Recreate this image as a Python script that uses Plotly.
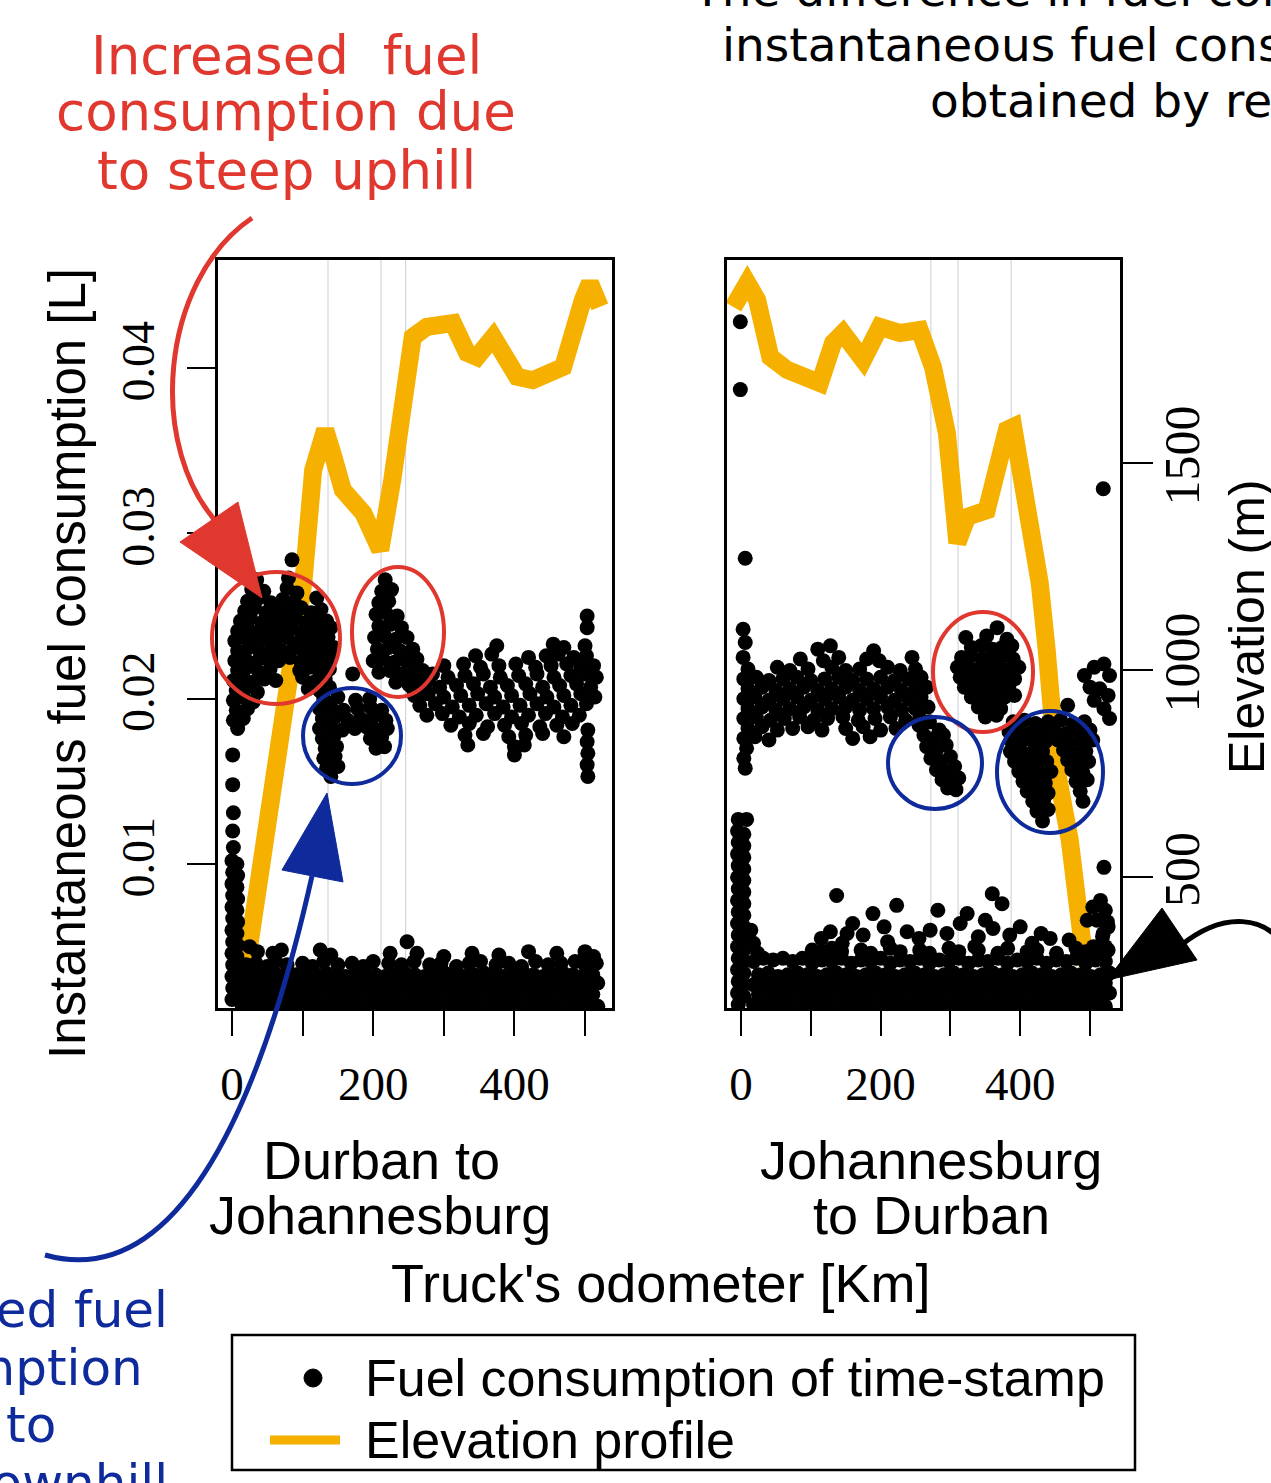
import plotly.graph_objects as go

W, H = 1271, 1483

# ---------------- DATA ----------------
# Elevation profiles (odometer km, elevation m)
dj_elev_km = [13, 78, 101, 115, 132, 143, 157, 186, 210, 227, 241, 256, 276, 313, 333, 347, 370, 404, 426, 469, 497, 507, 521]
dj_elev_m = [203, 952, 1210, 1483, 1580, 1519, 1435, 1379, 1290, 1459, 1628, 1804, 1829, 1838, 1766, 1756, 1804, 1708, 1700, 1732, 1894, 1935, 1877]
jd_elev_km = [-11, 9, 23, 42, 66, 113, 132, 146, 175, 199, 228, 256, 275, 295, 310, 324, 352, 381, 390, 410, 428, 438, 453, 471, 486, 493]
jd_elev_m = [1877, 1935, 1894, 1756, 1725, 1693, 1790, 1814, 1749, 1829, 1814, 1821, 1732, 1572, 1307, 1370, 1386, 1580, 1587, 1403, 1210, 1048, 751, 589, 348, 287]

# Durban -> Johannesburg fuel points (km, litres)
dj_uphill_a = [(35,.0272),(80,.0273),(85,.0284),
 (28,.0266),(45,.0265),(78,.0267),(92,.0264),
 (22,.0259),(38,.0261),(55,.0258),(72,.0260),(88,.0259),(120,.0261),
 (18,.0253),(32,.0255),(48,.0252),(64,.0254),(82,.0253),(98,.0255),(112,.0252),(126,.0254),
 (12,.0247),(26,.0249),(42,.0246),(58,.0248),(74,.0247),(90,.0249),(104,.0246),(118,.0248),(134,.0247),
 (8,.0241),(22,.0243),(36,.0240),(52,.0242),(68,.0241),(84,.0243),(98,.0240),(112,.0242),(128,.0241),(140,.0243),
 (4,.0235),(18,.0237),(32,.0234),(46,.0236),(62,.0235),(78,.0237),(94,.0234),(108,.0236),(122,.0235),(136,.0237),
 (8,.0229),(24,.0231),(40,.0228),(56,.0230),(70,.0229),(88,.0231),(102,.0228),(116,.0230),(130,.0229),(144,.0231),
 (4,.0223),(18,.0225),(34,.0222),(50,.0224),(66,.0223),(82,.0225),(98,.0222),(112,.0224),(126,.0223),(140,.0225),
 (8,.0217),(22,.0219),(38,.0216),(54,.0218),(96,.0217),(110,.0219),(124,.0216),(138,.0218),
 (2,.0211),(16,.0213),(30,.0210),(46,.0212),(62,.0211),(100,.0213),(116,.0210),(132,.0212),
 (6,.0205),(20,.0207),(36,.0204),(108,.0206),(124,.0205),(138,.0207),
 (2,.0199),(16,.0201),(30,.0198),(6,.0193),(22,.0194),(2,.0187),(16,.0188),(8,.0182)]
dj_downhill = [(171,.0215),
 (130,.0200),(150,.0201),(175,.0199),(195,.0200),
 (124,.0194),(140,.0195),(158,.0193),(178,.0194),(196,.0195),(212,.0193),
 (128,.0188),(146,.0189),(164,.0187),(182,.0188),(200,.0189),(218,.0187),
 (124,.0182),(140,.0183),(156,.0181),(174,.0182),(190,.0183),(206,.0181),(220,.0182),
 (128,.0176),(144,.0177),(196,.0176),(212,.0177),
 (132,.0170),(148,.0171),(204,.0170),(216,.0171),
 (130,.0164),(146,.0165),(134,.0158),(150,.0159),(140,.0153)]
dj_uphill_b = [(217,.0272),(212,.0265),(226,.0266),(208,.0258),(222,.0259),
 (204,.0251),(218,.0252),(234,.0250),(208,.0244),(224,.0245),(240,.0243),
 (202,.0237),(216,.0238),(232,.0236),(248,.0237),
 (206,.0230),(222,.0231),(238,.0229),(256,.0230),
 (200,.0223),(214,.0224),(230,.0222),(246,.0223),(262,.0224),
 (208,.0216),(224,.0217),(240,.0215),(256,.0216),(270,.0217),
 (232,.0210),(250,.0209),(266,.0210),(278,.0211),(258,.0204),(272,.0203)]
dj_plateau = [(375,.0232),(455,.0233),(470,.0231),(500,.0232),
 (345,.0226),(368,.0227),(420,.0225),(445,.0226),(462,.0227),(484,.0225),(502,.0226),
 (300,.0220),(328,.0221),(352,.0219),(378,.0220),(402,.0221),(430,.0219),(452,.0220),(474,.0221),(494,.0219),(512,.0220),
 (262,.0214),(284,.0215),(306,.0213),(330,.0214),(356,.0215),(380,.0213),(406,.0214),(432,.0215),(456,.0213),(480,.0214),(500,.0215),(516,.0213),
 (252,.0208),(272,.0209),(294,.0207),(318,.0208),(342,.0209),(366,.0207),(390,.0208),(416,.0209),(440,.0207),(464,.0208),(488,.0209),(508,.0207),
 (258,.0202),(278,.0203),(300,.0201),(324,.0202),(348,.0203),(372,.0201),(396,.0202),(422,.0203),(446,.0201),(470,.0202),(494,.0203),(514,.0201),
 (266,.0196),(288,.0197),(312,.0195),(336,.0196),(360,.0197),(384,.0195),(408,.0196),(432,.0197),(456,.0195),(480,.0196),(502,.0197),
 (276,.0190),(298,.0191),(322,.0189),(346,.0190),(372,.0191),(396,.0189),(420,.0190),(444,.0191),(468,.0189),(492,.0190),
 (310,.0184),(336,.0185),(362,.0183),(386,.0184),(410,.0185),(436,.0183),(460,.0184),(482,.0185),
 (330,.0178),(356,.0179),(392,.0177),(416,.0178),(440,.0179),(470,.0177),
 (334,.0172),(400,.0171),(414,.0172),(400,.0166),
 (503,.0250),(503,.0243),(504,.0181),(503,.0174),(504,.0167),(503,.0160),(504,.0153)]
dj_start = [(1,.0166),(1,.0148),(2,.0131),(1,.0120),(2,.0110),
 (0,.0102),(7,.0100),(1,.0095),(8,.0093),(0,.0088),(7,.0086),(1,.0081),(8,.0079),(0,.0074),(7,.0072),
 (1,.0067),(8,.0065),(0,.0060),(7,.0058),(1,.0053),(8,.0051),(0,.0046),(7,.0044),(1,.0039),(8,.0037),
 (0,.0032),(7,.0030),(1,.0025),(8,.0023),(0,.0018)]
dj_low_1 = [(14,.0015),(28,.0014),(42,.0016),(56,.0015),(70,.0014),(84,.0015),(98,.0016),(112,.0015),(126,.0014),(140,.0015),(154,.0016),(168,.0015),(182,.0014),(196,.0015),(210,.0016),(224,.0015),(238,.0014),(252,.0015),(266,.0016),(280,.0015),(294,.0014),(308,.0015),(322,.0016),(336,.0015),(350,.0014),(364,.0015),(378,.0016),(392,.0015),(406,.0014),(420,.0015),(434,.0016),(448,.0015),(462,.0014),(476,.0015),(490,.0016),(504,.0015),(518,.0014)]
dj_low_2 = [(21,.0021),(35,.0022),(49,.0020),(63,.0021),(77,.0022),(91,.0021),(105,.0020),(119,.0021),(133,.0022),(147,.0021),(161,.0020),(175,.0021),(189,.0022),(203,.0021),(217,.0020),(231,.0021),(245,.0022),(259,.0021),(273,.0020),(287,.0021),(301,.0022),(315,.0021),(329,.0020),(343,.0021),(357,.0022),(371,.0021),(385,.0020),(399,.0021),(413,.0022),(427,.0021),(441,.0020),(455,.0021),(469,.0022),(483,.0021),(497,.0020),(511,.0021)]
dj_low_3 = [(14,.0027),(28,.0028),(42,.0026),(56,.0027),(70,.0028),(84,.0027),(98,.0026),(112,.0027),(126,.0028),(140,.0027),(154,.0026),(168,.0027),(182,.0028),(196,.0027),(210,.0026),(224,.0027),(238,.0028),(252,.0027),(266,.0026),(280,.0027),(294,.0028),(308,.0027),(322,.0026),(336,.0027),(350,.0028),(364,.0027),(378,.0026),(392,.0027),(406,.0028),(420,.0027),(434,.0026),(448,.0027),(462,.0028),(476,.0027),(490,.0026),(504,.0027),(518,.0028)]
dj_low_4 = [(21,.0033),(35,.0034),(49,.0032),(63,.0033),(77,.0034),(91,.0033),(105,.0032),(119,.0033),(133,.0034),(147,.0033),(161,.0032),(175,.0033),(189,.0034),(203,.0033),(217,.0032),(231,.0033),(245,.0034),(259,.0033),(273,.0032),(287,.0033),(301,.0034),(315,.0033),(329,.0032),(343,.0033),(357,.0034),(371,.0033),(385,.0032),(399,.0033),(413,.0034),(427,.0033),(441,.0032),(455,.0033),(469,.0034),(483,.0033),(497,.0032),(511,.0033)]
dj_low_5 = [(20,.0039),(34,.0040),(50,.0038),(62,.0041),(78,.0039),(100,.0040),(114,.0038),(130,.0041),(150,.0039),(170,.0040),(186,.0038),(200,.0041),(222,.0040),(240,.0039),(258,.0041),(280,.0039),(296,.0040),(318,.0038),(336,.0040),(352,.0041),(374,.0039),(392,.0040),(410,.0038),(430,.0041),(448,.0039),(466,.0040),(486,.0041),(500,.0039),(516,.0040)]
dj_low_6 = [(25,.0050),(36,.0047),(58,.0046),(70,.0048),(125,.0048),(140,.0045),(224,.0046),(248,.0053),(262,.0046),(300,.0044),(340,.0046),(378,.0045),(420,.0047),(460,.0046),(500,.0047),(512,.0044)]

# Johannesburg -> Durban fuel points (km, litres)
jd_outliers = [(-1,.0428),(-1,.0387),(6,.0285),(3,.0242),(6,.0234),(519,.0327),(520,.0098)]
jd_highveld = [(110,.0230),(128,.0232),(190,.0229),
 (3,.0225),(85,.0224),(118,.0223),(140,.0225),(180,.0224),(198,.0223),(245,.0225),
 (10,.0218),(52,.0219),(70,.0217),(96,.0218),(130,.0219),(150,.0217),(170,.0218),(210,.0219),(228,.0217),(250,.0218),
 (4,.0212),(22,.0213),(40,.0211),(60,.0212),(80,.0213),(100,.0211),(120,.0212),(140,.0213),(160,.0211),(180,.0212),(200,.0213),(220,.0211),(240,.0212),(258,.0213),
 (10,.0206),(30,.0207),(50,.0205),(70,.0206),(90,.0207),(110,.0205),(130,.0206),(150,.0207),(170,.0205),(190,.0206),(210,.0207),(230,.0205),(250,.0206),(266,.0207),
 (4,.0200),(20,.0201),(40,.0199),(60,.0200),(80,.0201),(100,.0199),(120,.0200),(140,.0201),(160,.0199),(180,.0200),(200,.0201),(220,.0199),(240,.0200),(258,.0201),
 (10,.0194),(30,.0195),(50,.0193),(70,.0194),(90,.0195),(110,.0193),(130,.0194),(150,.0195),(170,.0193),(190,.0194),(210,.0195),(230,.0193),(250,.0194),(268,.0195),
 (4,.0188),(22,.0189),(42,.0187),(62,.0188),(84,.0189),(104,.0187),(124,.0188),(146,.0189),(168,.0187),(192,.0188),(214,.0189),(236,.0187),(256,.0188),
 (10,.0182),(30,.0183),(52,.0181),(74,.0182),(96,.0183),(116,.0181),(150,.0182),(175,.0183),(200,.0181),(222,.0182),
 (4,.0176),(20,.0177),(40,.0175),(160,.0176),(185,.0177),(8,.0170),(4,.0164),(6,.0158)]
jd_downhill_a = [(255,.0184),(270,.0186),(284,.0181),(262,.0178),(276,.0176),(290,.0178),(266,.0171),(280,.0169),(294,.0172),
 (272,.0164),(286,.0162),(300,.0165),(280,.0157),(294,.0156),(306,.0159),(288,.0151),(300,.0150),(312,.0152),(296,.0146),(308,.0145)]
jd_uphill = [(367,.0243),(322,.0237),(352,.0238),(381,.0236),
 (330,.0231),(344,.0232),(360,.0230),(374,.0231),(388,.0232),
 (316,.0225),(330,.0226),(346,.0224),(362,.0225),(376,.0226),(390,.0224),
 (310,.0219),(324,.0220),(340,.0218),(356,.0219),(370,.0220),(386,.0218),(398,.0219),
 (314,.0213),(330,.0214),(346,.0212),(362,.0213),(378,.0214),(392,.0212),
 (320,.0207),(336,.0208),(352,.0206),(368,.0207),(384,.0208),
 (330,.0201),(346,.0202),(362,.0200),(378,.0201),(392,.0202),
 (340,.0195),(356,.0196),(372,.0194),(350,.0189),(366,.0190)]
jd_downhill_b = [(390,.0186),(406,.0187),(422,.0185),(440,.0186),(458,.0187),(476,.0185),(492,.0186),
 (384,.0180),(398,.0181),(414,.0179),(430,.0180),(448,.0181),(466,.0179),(484,.0180),(500,.0181),
 (388,.0174),(404,.0175),(420,.0173),(436,.0174),(454,.0175),(472,.0173),(490,.0174),(504,.0175),
 (386,.0168),(400,.0169),(416,.0167),(432,.0168),(462,.0169),(478,.0167),(494,.0168),
 (392,.0162),(408,.0163),(424,.0161),(438,.0162),(468,.0163),(484,.0161),(498,.0162),
 (398,.0156),(414,.0157),(430,.0155),(444,.0156),(474,.0157),(490,.0155),
 (404,.0150),(420,.0151),(436,.0149),(480,.0150),(496,.0151),
 (410,.0144),(426,.0145),(440,.0143),(486,.0144),(418,.0138),(434,.0139),(490,.0138),
 (424,.0132),(440,.0133),(432,.0126),
 (492,.0214),(506,.0219),(520,.0221),(528,.0214),(500,.0207),(514,.0206),(526,.0202),(506,.0199),(520,.0194),(528,.0188),(468,.0196)]
jd_start = [(-4,.0127),(8,.0127),(-5,.0120),(4,.0118),(-4,.0113),(4,.0111),(-5,.0106),(4,.0104),(-4,.0099),(4,.0097),
 (-5,.0092),(4,.0090),(-4,.0085),(4,.0083),(-5,.0078),(4,.0076),(-4,.0071),(4,.0069),(-5,.0064),(4,.0062),
 (-4,.0057),(4,.0055),(-5,.0050),(4,.0048),(-4,.0043),(4,.0041),(-5,.0036),(4,.0034),(-4,.0029),(4,.0027),
 (-5,.0022),(4,.0020),(-4,.0015),(14,.0060),(18,.0052),(24,.0046)]
jd_low_1 = [(18,.0015),(32,.0014),(46,.0016),(60,.0015),(74,.0014),(88,.0015),(102,.0016),(116,.0015),(130,.0014),(144,.0015),(158,.0016),(172,.0015),(186,.0014),(200,.0015),(214,.0016),(228,.0015),(242,.0014),(256,.0015),(270,.0016),(284,.0015),(298,.0014),(312,.0015),(326,.0016),(340,.0015),(354,.0014),(368,.0015),(382,.0016),(396,.0015),(410,.0014),(424,.0015),(438,.0016),(452,.0015),(466,.0014),(480,.0015),(494,.0016),(508,.0015),(522,.0014)]
jd_low_2 = [(25,.0021),(39,.0022),(53,.0020),(67,.0021),(81,.0022),(95,.0021),(109,.0020),(123,.0021),(137,.0022),(151,.0021),(165,.0020),(179,.0021),(193,.0022),(207,.0021),(221,.0020),(235,.0021),(249,.0022),(263,.0021),(277,.0020),(291,.0021),(305,.0022),(319,.0021),(333,.0020),(347,.0021),(361,.0022),(375,.0021),(389,.0020),(403,.0021),(417,.0022),(431,.0021),(445,.0020),(459,.0021),(473,.0022),(487,.0021),(501,.0020),(515,.0021),(528,.0022)]
jd_low_3 = [(18,.0027),(32,.0028),(46,.0026),(60,.0027),(74,.0028),(88,.0027),(102,.0026),(116,.0027),(130,.0028),(144,.0027),(158,.0026),(172,.0027),(186,.0028),(200,.0027),(214,.0026),(228,.0027),(242,.0028),(256,.0027),(270,.0026),(284,.0027),(298,.0028),(312,.0027),(326,.0026),(340,.0027),(354,.0028),(368,.0027),(382,.0026),(396,.0027),(410,.0028),(424,.0027),(438,.0026),(452,.0027),(466,.0028),(480,.0027),(494,.0026),(508,.0027),(522,.0028)]
jd_low_4 = [(25,.0033),(39,.0034),(53,.0032),(67,.0033),(81,.0034),(95,.0033),(109,.0032),(123,.0033),(137,.0034),(151,.0033),(165,.0032),(179,.0033),(193,.0034),(207,.0033),(221,.0032),(235,.0033),(249,.0034),(263,.0033),(277,.0032),(291,.0033),(305,.0034),(319,.0033),(333,.0032),(347,.0033),(361,.0034),(375,.0033),(389,.0032),(403,.0033),(417,.0034),(431,.0033),(445,.0032),(459,.0033),(473,.0034),(487,.0033),(501,.0032),(515,.0033),(528,.0034)]
jd_low_5 = [(18,.0041),(32,.0043),(46,.0042),(60,.0043),(74,.0041),(88,.0043),(102,.0040),(116,.0042),(130,.0041),(144,.0043),(158,.0040),(172,.0042),(186,.0041),(200,.0043),(214,.0040),(228,.0042),(242,.0041),(256,.0043),(270,.0040),(284,.0042),(298,.0041),(312,.0043),(326,.0040),(340,.0042),(354,.0041),(368,.0043),(382,.0040),(396,.0042),(410,.0041),(424,.0043),(438,.0040),(452,.0042),(466,.0041),(480,.0043),(494,.0040),(508,.0042),(522,.0041)]
jd_low_6 = [(102,.0048),(116,.0047),(130,.0049),(144,.0047),(172,.0048),(186,.0046),(214,.0049),(228,.0047),(256,.0048),(270,.0046),(298,.0049),(312,.0047),(340,.0048),(368,.0046),(382,.0049),(410,.0047),(424,.0048),(452,.0046),(480,.0049),(494,.0047),(508,.0048),(522,.0046)]
jd_low_7 = [(137,.0081),(223,.0075),(282,.0072),(324,.0070),(360,.0082),(374,.0076),(361,.0061),(400,.0062),(189,.0070),(128,.0059),
 (160,.0064),(152,.0058),(238,.0059),(271,.0060),(314,.0064),(103,.0047),(504,.0074),(519,.0058),(496,.0066),(417,.0052),
 (443,.0055),(115,.0055),(175,.0057),(205,.0062),(255,.0055),(295,.0058),(340,.0056),(385,.0057),(430,.0058),(470,.0054),
 (525,.0065),(522,.0050),(350,.0066),(210,.0053),(145,.0052),(335,.0050),(515,.0078),(522,.0072),(510,.0066),(526,.0062),
 (518,.0056),(505,.0050),(526,.0048)]

# tick labels
x_tickvals = [0, 100, 200, 300, 400, 500]
x_ticktext = ["0", "", "200", "", "400", ""]
fuel_tickvals = [0.01, 0.02, 0.03, 0.04]
fuel_ticktext = ["0.01", "0.02", "0.03", "0.04"]
elev_tickvals = [500, 1000, 1500]
elev_ticktext = ["500", "1000", "1500"]

# faint vertical guide lines visible in the picture (km)
dj_guides = [136, 211, 246]
jd_guides = [272, 311, 387]

# ---------------- STYLE ----------------
ORANGE = "#F6B000"
RED = "#E0382E"
BLUE = "#0E2A9B"
SANS = "Liberation Sans, Arial, sans-serif"
SERIF = "Liberation Serif, Times New Roman, serif"
NOTE = "DejaVu Sans, Verdana, sans-serif"
DOT = 15

FUEL_RANGE = [0.00129, 0.04654]
ELEV_RANGE = [183.6, 1990.3]
Y_DOM = [1 - 1008 / H, 1 - 260 / H]


def unzip(*groups):
    xs, ys = [], []
    for g in groups:
        for a, b in g:
            xs.append(a)
            ys.append(b)
    return xs, ys


dj_x, dj_y = unzip(dj_uphill_a, dj_downhill, dj_uphill_b, dj_plateau, dj_start,
                   dj_low_1, dj_low_2, dj_low_3, dj_low_4, dj_low_5, dj_low_6)
jd_x, jd_y = unzip(jd_outliers, jd_highveld, jd_downhill_a, jd_uphill, jd_downhill_b, jd_start,
                   jd_low_1, jd_low_2, jd_low_3, jd_low_4, jd_low_5, jd_low_6, jd_low_7)

fig = go.Figure()
fig.add_trace(go.Scatter(x=dj_elev_km, y=dj_elev_m, xaxis="x", yaxis="y", mode="lines",
                         line=dict(color=ORANGE, width=18), name="Elevation profile", hoverinfo="skip"))
fig.add_trace(go.Scatter(x=dj_x, y=dj_y, xaxis="x", yaxis="y2", mode="markers",
                         marker=dict(color="black", size=DOT, line=dict(width=0)),
                         name="Fuel consumption of time-stamp"))
fig.add_trace(go.Scatter(x=jd_elev_km, y=jd_elev_m, xaxis="x2", yaxis="y3", mode="lines",
                         line=dict(color=ORANGE, width=18), name="Elevation profile", hoverinfo="skip"))
fig.add_trace(go.Scatter(x=jd_x, y=jd_y, xaxis="x2", yaxis="y4", mode="markers",
                         marker=dict(color="black", size=DOT, line=dict(width=0)),
                         name="Fuel consumption of time-stamp"))

xcommon = dict(tickvals=x_tickvals, ticktext=x_ticktext, ticks="outside", ticklen=25,
               tickwidth=2, tickcolor="black", showline=True, mirror=True, linecolor="black",
               linewidth=2.5, showgrid=False, zeroline=False,
               tickfont=dict(family=SERIF, size=47, color="black"), ticklabelstandoff=8)

fig.update_layout(
    width=W, height=H, margin=dict(l=0, r=0, t=0, b=0),
    paper_bgcolor="white", plot_bgcolor="white", showlegend=False,
    xaxis={**xcommon, "domain": [218 / W, 612 / W], "range": [-19.8, 538.2], "anchor": "y"},
    yaxis=dict(domain=Y_DOM, range=ELEV_RANGE, anchor="x", visible=False),
    yaxis2=dict(overlaying="y", anchor="x", side="left", range=FUEL_RANGE,
                tickvals=fuel_tickvals, ticktext=fuel_ticktext, ticks="outside", ticklen=28,
                tickwidth=2, tickcolor="black", tickangle=-90, showline=True, mirror=True,
                linecolor="black", linewidth=2.5, showgrid=False, zeroline=False,
                tickfont=dict(family=SERIF, size=46, color="black"), ticklabelstandoff=15),
    xaxis2={**xcommon, "domain": [727 / W, 1120 / W], "range": [-20.1, 543.0], "anchor": "y3"},
    yaxis3=dict(domain=Y_DOM, range=ELEV_RANGE, anchor="x2", side="right",
                tickvals=elev_tickvals, ticktext=elev_ticktext, ticks="outside", ticklen=30,
                tickwidth=2, tickcolor="black", tickangle=-90, showline=True, mirror=True,
                linecolor="black", linewidth=2.5, showgrid=False, zeroline=False,
                tickfont=dict(family=SERIF, size=50, color="black"), ticklabelstandoff=-14),
    yaxis4=dict(overlaying="y3", anchor="x2", range=FUEL_RANGE, visible=False),
)

# faint guide lines
for k in dj_guides:
    fig.add_shape(type="line", xref="x", yref="paper", x0=k, x1=k, y0=Y_DOM[0], y1=Y_DOM[1],
                  line=dict(color="#C8CDD8", width=1), layer="below")
for k in jd_guides:
    fig.add_shape(type="line", xref="x2", yref="paper", x0=k, x1=k, y0=Y_DOM[0], y1=Y_DOM[1],
                  line=dict(color="#C8CDD8", width=1), layer="below")


def PX(x):
    return x / W


def PY(y):
    return 1 - y / H


def pt(p):
    return f"{PX(p[0]):.5f},{PY(p[1]):.5f}"


def txt(s, x, y, size, color="black", family=SANS, xanchor="center", angle=0):
    fig.add_annotation(text=s, x=PX(x), y=PY(y), xref="paper", yref="paper", xanchor=xanchor,
                       yanchor="middle", showarrow=False, textangle=angle,
                       font=dict(family=family, size=size, color=color))


def ellipse(cx, cy, rx, ry, color):
    fig.add_shape(type="circle", xref="paper", yref="paper", x0=PX(cx - rx), x1=PX(cx + rx),
                  y0=PY(cy + ry), y1=PY(cy - ry), line=dict(color=color, width=4))


def curve(p0, c1, c2, p1, color):
    fig.add_shape(type="path", xref="paper", yref="paper",
                  path=f"M {pt(p0)} C {pt(c1)} {pt(c2)} {pt(p1)}", line=dict(color=color, width=5))


def head(a, b, c, color):
    fig.add_shape(type="path", xref="paper", yref="paper",
                  path=f"M {pt(a)} L {pt(b)} L {pt(c)} Z", fillcolor=color, line=dict(color=color, width=1))


# circles
ellipse(276, 638, 64, 66, RED)
ellipse(398, 632, 46, 65, RED)
ellipse(983, 672, 50, 60, RED)
ellipse(352, 736, 49, 48, BLUE)
ellipse(935, 763, 47, 46, BLUE)
ellipse(1050, 772, 53, 61, BLUE)

# arrows
curve((252, 218), (160, 280), (145, 450), (222, 528), RED)
head((262, 598), (180, 542), (238, 502), RED)
curve((45, 1255), (170, 1290), (255, 1130), (312, 876), BLUE)
head((327, 793), (282, 870), (343, 882), BLUE)
curve((1290, 955), (1268, 912), (1222, 912), (1180, 946), "black")
head((1107, 980), (1162, 908), (1197, 960), "black")

# annotation texts
txt("Increased  fuel", 286, 55, 53, RED, NOTE)
txt("consumption due", 286, 112, 53, RED, NOTE)
txt("to steep uphill", 286, 170, 53, RED, NOTE)
txt("Decreased fuel", 170, 1310, 50, BLUE, NOTE, xanchor="right")
txt("consumption", 145, 1368, 50, BLUE, NOTE, xanchor="right")
txt("due to", 58, 1425, 50, BLUE, NOTE, xanchor="right")
txt("steep downhill", 170, 1483, 50, BLUE, NOTE, xanchor="right")
txt("The difference in fuel consumption", 690, -11, 47, "black", NOTE, xanchor="left")
txt("instantaneous fuel consumption", 720, 45, 47, "black", NOTE, xanchor="left")
txt("obtained by regression", 928, 100, 47, "black", NOTE, xanchor="left")

# axis titles
txt("Durban to", 381, 1160, 54)
txt("Johannesburg", 380, 1215, 54)
txt("Johannesburg", 931, 1160, 54)
txt("to Durban", 931, 1215, 54)
txt("Truck's odometer [Km]", 660, 1283, 54)
txt("Instantaneous fuel consumption [L]", 68, 664, 51, angle=-90)
txt("Elevation (m)", 1247, 627, 50, angle=-90)

# legend
fig.add_shape(type="rect", xref="paper", yref="paper", x0=PX(232), x1=PX(1135), y0=PY(1470), y1=PY(1335),
              line=dict(color="black", width=2.5))
fig.add_shape(type="circle", xref="paper", yref="paper", x0=PX(304), x1=PX(322), y0=PY(1387), y1=PY(1369),
              fillcolor="black", line=dict(color="black", width=1))
fig.add_shape(type="line", xref="paper", yref="paper", x0=PX(270), x1=PX(340), y0=PY(1440), y1=PY(1440),
              line=dict(color=ORANGE, width=9))
txt("Fuel consumption of time-stamp", 363, 1378, 52, xanchor="left")
txt("Elevation profile", 363, 1440, 52, xanchor="left")

fig.write_html("out.html", config={"displayModeBar": False},
               post_script="document.body.style.margin='0';")
